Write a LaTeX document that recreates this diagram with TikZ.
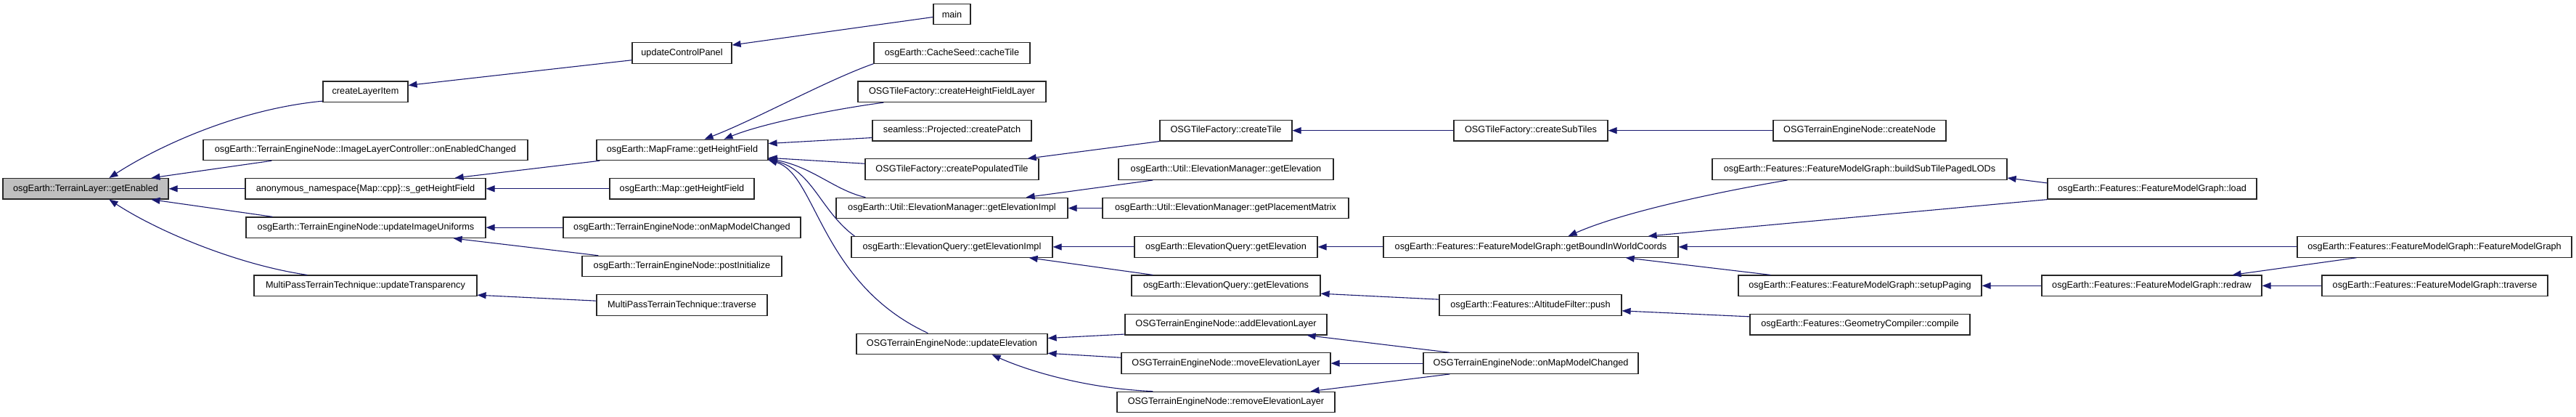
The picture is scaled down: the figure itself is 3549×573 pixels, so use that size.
\documentclass[tikz,border=0pt]{standalone}
\usepackage{fontspec}
\setmainfont{Liberation Sans}
\usetikzlibrary{arrows.meta}
\definecolor{mblue}{RGB}{25,25,112}
\definecolor{nodegray}{RGB}{191,191,191}
\newcommand{\dxbox}[6][]{%
  \pgfmathsetmacro{\bxcx}{(#3+#4)/2}%
  \pgfmathsetmacro{\bxw}{#4-#3}%
  \pgfmathsetmacro{\bxcy}{19.5+26.7*#5}%
  \node[box,minimum width=\bxw pt,#1] (#2) at (\bxcx,\bxcy) {#6};}
\begin{document}
\begin{tikzpicture}[x=1pt,y=-1pt,
  box/.style={draw=black!85,line width=1.2pt,fill=white,minimum height=28.5pt,
    inner xsep=1pt,inner ysep=0pt,anchor=center,text=black,
    font=\fontsize{12.7}{14}\selectfont},
  edge/.style={draw=mblue,line width=1.1pt,-{Triangle[length=12pt,width=9pt]}}]
\fill[white] (0,0) rectangle (3549,573);
\useasboundingbox (0,0) rectangle (3549,573);
% nodes
\dxbox[fill=nodegray]{ge}{4}{232}{9}{osgEarth::TerrainLayer::getEnabled}
\dxbox{cli}{445}{562}{4}{createLayerItem}
\dxbox{ilc}{280}{727}{7}{osgEarth::TerrainEngineNode::ImageLayerController::onEnabledChanged}
\dxbox{sgh}{338}{669}{9}{anonymous\_namespace\{Map::cpp\}::s\_getHeightField}
\dxbox{uiu}{339}{669}{11}{osgEarth::TerrainEngineNode::updateImageUniforms}
\dxbox{utr}{350}{657}{14}{MultiPassTerrainTechnique::updateTransparency}
\dxbox{ucp}{871}{1008}{2}{updateControlPanel}
\dxbox{mfgh}{822}{1058}{7}{osgEarth::MapFrame::getHeightField}
\dxbox{mgh}{840}{1039}{9}{osgEarth::Map::getHeightField}
\dxbox{tmmc}{776}{1103}{11}{osgEarth::TerrainEngineNode::onMapModelChanged}
\dxbox{pin}{802}{1077}{13}{osgEarth::TerrainEngineNode::postInitialize}
\dxbox{mptr}{822}{1057}{15}{MultiPassTerrainTechnique::traverse}
\dxbox{main}{1286}{1337}{0}{main}
\dxbox{cst}{1204}{1419}{2}{osgEarth::CacheSeed::cacheTile}
\dxbox{chfl}{1182}{1441}{4}{OSGTileFactory::createHeightFieldLayer}
\dxbox{scp}{1202}{1421}{6}{seamless::Projected::createPatch}
\dxbox{cpt}{1192}{1431}{8}{OSGTileFactory::createPopulatedTile}
\dxbox{emgi}{1152}{1471}{10}{osgEarth::Util::ElevationManager::getElevationImpl}
\dxbox{eqgi}{1173}{1450}{12}{osgEarth::ElevationQuery::getElevationImpl}
\dxbox{uel}{1180}{1443}{17}{OSGTerrainEngineNode::updateElevation}
\dxbox{ct}{1598}{1780}{6}{OSGTileFactory::createTile}
\dxbox{emge}{1541}{1837}{8}{osgEarth::Util::ElevationManager::getElevation}
\dxbox{gpm}{1519}{1858}{10}{osgEarth::Util::ElevationManager::getPlacementMatrix}
\dxbox{eqge}{1563}{1815}{12}{osgEarth::ElevationQuery::getElevation}
\dxbox{eqgs}{1559}{1819}{14}{osgEarth::ElevationQuery::getElevations}
\dxbox{ael}{1550}{1828}{16}{OSGTerrainEngineNode::addElevationLayer}
\dxbox{mel}{1545}{1833}{18}{OSGTerrainEngineNode::moveElevationLayer}
\dxbox{rel}{1539}{1839}{20}{OSGTerrainEngineNode::removeElevationLayer}
\dxbox{cst2}{2003}{2215}{6}{OSGTileFactory::createSubTiles}
\dxbox{gbw}{1906}{2312}{12}{osgEarth::Features::FeatureModelGraph::getBoundInWorldCoords}
\dxbox{afp}{1983}{2234}{15}{osgEarth::Features::AltitudeFilter::push}
\dxbox{omc}{1961}{2257}{18}{OSGTerrainEngineNode::onMapModelChanged}
\dxbox{cn}{2443}{2681}{6}{OSGTerrainEngineNode::createNode}
\dxbox{bsl}{2359}{2765}{8}{osgEarth::Features::FeatureModelGraph::buildSubTilePagedLODs}
\dxbox{sup}{2395}{2730}{14}{osgEarth::Features::FeatureModelGraph::setupPaging}
\dxbox{gcc}{2411}{2714}{16}{osgEarth::Features::GeometryCompiler::compile}
\dxbox{fld}{2821}{3109}{9}{osgEarth::Features::FeatureModelGraph::load}
\dxbox{frd}{2813}{3116}{14}{osgEarth::Features::FeatureModelGraph::redraw}
\dxbox{fmg}{3165}{3543}{12}{osgEarth::Features::FeatureModelGraph::FeatureModelGraph}
\dxbox{ftr}{3199}{3510}{14}{osgEarth::Features::FeatureModelGraph::traverse}
% edges
\draw[edge] ([yshift=2]cli.south west) .. controls (330,150) and (220,200) .. ([xshift=147]ge.north west);
\draw[edge] ([xshift=95]ilc.south west) -- ([xshift=205]ge.north west);
\draw[edge] (sgh.west) -- (ge.east);
\draw[edge] ([xshift=37]uiu.north west) -- ([xshift=205]ge.south west);
\draw[edge] ([xshift=74]utr.north west) .. controls (330,365) and (220,320) .. ([xshift=147]ge.south west);
\draw[edge] ([yshift=5]ucp.south west) -- ([yshift=-6]cli.north east);
\draw[edge] ([yshift=-4]main.west) -- ([yshift=-4]ucp.north east);
\draw[edge] ([xshift=5]mfgh.south west) -- ([xshift=-43]sgh.north east);
\draw[edge] (mgh.west) -- (sgh.east);
\draw[edge] (tmmc.west) -- (uiu.east);
\draw[edge] ([xshift=23]pin.north west) -- ([xshift=-45]uiu.south east);
\draw[edge] ([yshift=-9]mptr.north west) -- ([yshift=2]utr.south east);
\draw[edge] (cst.south west) .. controls (1140,110) and (1040,165) .. ([xshift=-88]mfgh.north east);
\draw[edge] ([xshift=36]chfl.south west) .. controls (1150,150) and (1050,170) .. ([xshift=-61]mfgh.north east);
\draw[edge] ([yshift=5]scp.south west) -- ([yshift=-6]mfgh.north east);
\draw[edge] ([yshift=-7]cpt.north west) -- ([yshift=4]mfgh.south east);
\draw[edge] ([xshift=41]emgi.north west) .. controls (1150,262) and (1120,230) .. ([yshift=3]mfgh.south east);
\draw[edge] ([xshift=5]eqgi.north west) .. controls (1130,290) and (1120,235) .. ([yshift=2]mfgh.south east);
\draw[edge] ([xshift=99]uel.north west) .. controls (1130,390) and (1125,240) .. ([yshift=1]mfgh.south east);
\draw[edge] (ct.south west) -- ([xshift=-16]cpt.north east);
\draw[edge] (cst2.west) -- (ct.east);
\draw[edge] (cn.west) -- (cst2.east);
\draw[edge] ([xshift=48]emge.south west) -- ([xshift=-58]emgi.north east);
\draw[edge] (gpm.west) -- (emgi.east);
\draw[edge] (eqge.west) -- (eqgi.east);
\draw[edge] ([xshift=30]eqgs.north west) -- ([xshift=-33]eqgi.south east);
\draw[edge] (gbw.west) -- (eqge.east);
\draw[edge] ([yshift=-7]afp.north west) -- ([yshift=4]eqgs.south east);
\draw[edge] ([yshift=-4]gcc.north west) -- ([yshift=7]afp.south east);
\draw[edge] ([yshift=1.5]ael.south west) -- ([yshift=-7]uel.north east);
\draw[edge] ([yshift=-7]mel.north west) -- ([yshift=2]uel.south east);
\draw[edge] ([xshift=50]rel.north west) .. controls (1500,535) and (1420,512) .. ([xshift=-77]uel.south east);
\draw[edge] ([xshift=37]omc.north west) -- ([xshift=-28]ael.south east);
\draw[edge] (omc.west) -- (mel.east);
\draw[edge] ([xshift=37]omc.south west) -- ([xshift=-34]rel.north east);
\draw[edge] ([xshift=104]bsl.south west) .. controls (2380,262) and (2240,290) .. ([xshift=-152]gbw.north east);
\draw[edge] ([yshift=-7]fld.north west) -- ([yshift=3]bsl.south east);
\draw[edge] (fld.south west) -- ([xshift=-42]gbw.north east);
\draw[edge] (fmg.west) -- (gbw.east);
\draw[edge] ([xshift=45]sup.north west) -- ([xshift=-73]gbw.south east);
\draw[edge] (frd.west) -- (sup.east);
\draw[edge] ([xshift=82]fmg.south west) -- ([xshift=-41]frd.north east);
\draw[edge] (ftr.west) -- (frd.east);
\end{tikzpicture}
\end{document}
